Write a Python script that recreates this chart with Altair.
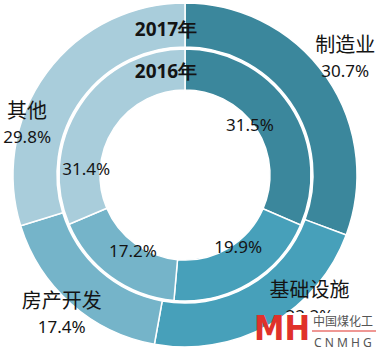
import altair as alt
import pandas as pd

# ---- data ----
categories = ["制造业", "基础设施", "房产开发", "其他"]
share_2016 = [31.5, 19.9, 17.2, 31.4]
share_2017 = [30.7, 22.2, 17.4, 29.8]
ring_years = ["2016年", "2017年"]

# ---- style ----
colors = ["#3B879C", "#47A0BA", "#75B4C9", "#A9CDDB"]
CX, CY = 185, 175
NUM_FONT = "Noto Sans"
CJK_FONT = "Noto Sans CJK SC"
TXT = "#141414"

rows = []
for i, c in enumerate(categories):
    rows.append({"year": ring_years[0], "cat": c, "ord": i, "value": share_2016[i]})
    rows.append({"year": ring_years[1], "cat": c, "ord": i, "value": share_2017[i]})
df = pd.DataFrame(rows)

base = (
    alt.Chart(df)
    .transform_window(cum="sum(value)", sort=[alt.SortField("ord")],
                      groupby=["year"], frame=[None, 0])
    .transform_joinaggregate(total="sum(value)", groupby=["year"])
    .transform_calculate(
        t0="2*PI*(datum.cum - datum.value)/datum.total",
        t1="2*PI*datum.cum/datum.total",
        label="format(datum.value, '.1f') + '%'",
    )
    .transform_calculate(tm="(datum.t0 + datum.t1)/2")
)

color = alt.Color("cat:N", scale=alt.Scale(domain=categories, range=colors), legend=None)


def ring(year, r0, r1):
    return (
        base.transform_filter(alt.datum.year == year)
        .mark_arc(innerRadius=r0, outerRadius=r1, stroke="white", strokeWidth=1.5)
        .encode(theta=alt.Theta("t0:Q", scale=None), theta2="t1:Q", color=color,
                x=alt.value(CX), y=alt.value(CY))
    )


# label nudges (pixels) relative to the mid-angle of each slice
outer_nudge = {"制造业": (0, -5), "基础设施": (28, -40), "房产开发": (6, -6), "其他": (-1, 66)}
inner_nudge = {"制造业": (-12, 2), "基础设施": (6, -6), "房产开发": (2, 3), "其他": (-22, 46)}


def label(year, cat, radius, field, dx, dy, font, size):
    return (
        base.transform_filter((alt.datum.year == year) & (alt.datum.cat == cat))
        .mark_text(font=font, fontSize=size, color=TXT, dx=dx, dy=dy,
                   align="center", baseline="middle")
        .encode(theta=alt.Theta("tm:Q", scale=None), radius=alt.value(radius),
                text=alt.Text(field), x=alt.value(CX), y=alt.value(CY))
    )


layers = [ring(ring_years[1], 128, 172), ring(ring_years[0], 85, 126)]

for cat in categories:
    dx, dy = outer_nudge[cat]
    layers.append(label(ring_years[1], cat, 195, "cat:N", dx, dy - 13, CJK_FONT, 20))
    layers.append(label(ring_years[1], cat, 195, "label:N", dx, dy + 13, NUM_FONT, 17))
    idx, idy = inner_nudge[cat]
    layers.append(label(ring_years[0], cat, 92, "label:N", idx, idy, NUM_FONT, 17))

# ring titles at the top of each ring
year_df = pd.DataFrame({"year": ring_years, "r": [103, 145]})
year_text = (
    alt.Chart(year_df)
    .mark_text(font=NUM_FONT, fontSize=19, fontWeight="bold", color=TXT,
               dx=-19, align="center", baseline="middle")
    .encode(theta=alt.value(0), radius=alt.Radius("r:Q", scale=None),
            text="year:N", x=alt.value(CX), y=alt.value(CY))
)
layers.append(year_text)

# watermark logo
logo_bg = alt.Chart(pd.DataFrame({"a": [0]})).mark_rect(color="white").encode(
    x=alt.value(286), x2=alt.value(378), y=alt.value(313), y2=alt.value(353))
logo_mh = alt.Chart(pd.DataFrame({"t": ["MH"]})).mark_text(
    font="DejaVu Sans Condensed", fontSize=34, fontWeight="bold", color="#E0312B",
    align="center", baseline="middle").encode(text="t:N", x=alt.value(282), y=alt.value(330))
logo_cn = alt.Chart(pd.DataFrame({"t": ["中国煤化工"]})).mark_text(
    font=CJK_FONT, fontSize=12, color="#555555", align="left", baseline="middle").encode(
    text="t:N", x=alt.value(313), y=alt.value(322))
logo_line = alt.Chart(pd.DataFrame({"a": [0]})).mark_rule(color="#E0312B", strokeWidth=1.2).encode(
    x=alt.value(312), x2=alt.value(376), y=alt.value(331))
logo_en = alt.Chart(pd.DataFrame({"t": ["C N M H G"]})).mark_text(
    font=NUM_FONT, fontSize=12, color="#555555", align="left", baseline="middle").encode(
    text="t:N", x=alt.value(314), y=alt.value(343))
layers += [logo_bg, logo_mh, logo_cn, logo_line, logo_en]

chart = (
    alt.layer(*layers)
    .properties(width=378, height=353, padding=0, autosize="none", background="white")
    .configure_view(stroke=None)
)

chart.save("out.html", embed_options={"renderer": "svg", "actions": False})
